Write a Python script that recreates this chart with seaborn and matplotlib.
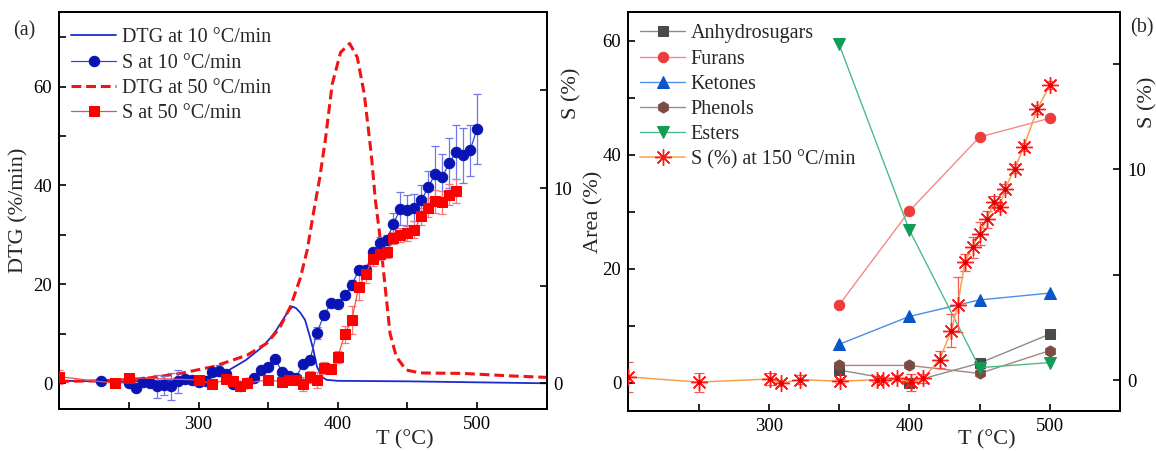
import matplotlib
matplotlib.use("Agg")
import matplotlib.pyplot as plt
import seaborn as sns
import numpy as np

sns.set_theme(style="ticks")
plt.rcParams['font.family'] = ['Liberation Serif', 'DejaVu Serif']
plt.rcParams['xtick.direction'] = 'in'
plt.rcParams['ytick.direction'] = 'in'

# ---------------- panel (a) data ----------------
t_dtg10 = [200, 230, 260, 290, 300, 310, 322, 334, 346, 352, 356, 360, 364, 367.5, 370, 373,
           376.5, 380, 382.5, 385, 388.5, 392, 400, 450, 500, 550]
dtg10 = [0.5, 0.4, 0.4, 0.7, 1.0, 1.5, 2.7, 4.7, 7.4, 9.3, 10.8, 12.6, 14.4, 15.5, 15.2, 14.3,
         12.8, 9.4, 6.7, 3.4, 1.3, 0.7, 0.5, 0.4, 0.2, 0.0]

t_dtg50 = [200, 230, 260, 287, 311, 335, 349, 358, 366, 373, 378, 382, 387, 391, 396, 402, 408.5,
           414, 419, 424, 427, 430, 434, 437.5, 442, 449, 459, 490, 524, 550]
dtg50 = [0.4, 0.5, 0.9, 2.0, 3.4, 5.7, 8.1, 11.1, 15.5, 21.2, 26.9, 33.6, 41.5, 49.1, 60.5, 66.9, 68.7,
         65.9, 58.5, 46.4, 37.0, 30.3, 19.5, 10.1, 5.4, 2.7, 2.1, 2.0, 1.5, 1.2]

t_s10 = [230, 250, 255, 260, 265, 270, 275, 280, 285, 290, 295, 300, 305, 310, 315, 320, 325, 330,
         335, 340, 345, 350, 355, 360, 365, 370, 375, 380, 385, 390, 395, 400, 405, 410, 415, 420,
         425, 430, 435, 440, 445, 450, 455, 460, 465, 470, 475, 480, 485, 490, 495, 500]
s10 = [0.12, 0.0, -0.25, 0.05, 0.0, -0.15, -0.1, -0.15, 0.1, 0.2, 0.15, 0.05, 0.1, 0.6, 0.65, 0.5,
       -0.05, -0.15, 0.03, 0.25, 0.68, 0.82, 1.26, 0.58, 0.37, 0.29, 0.99, 1.19, 2.59, 3.48, 4.09,
       4.05, 4.51, 5.03, 5.79, 5.79, 6.71, 7.19, 7.33, 8.18, 8.95, 8.86, 8.99, 9.37, 10.05, 10.73,
       10.56, 11.28, 11.84, 11.67, 11.93, 13.03]
err10 = [0.1, 0.1, 0.1, 0.15, 0.2, 0.6, 0.5, 0.7, 0.6, 0.2, 0.15, 0.1, 0.15, 0.2, 0.3, 0.2, 0.15, 0.15,
         0.1, 0.1, 0.1, 0.1, 0.1, 0.1, 0.1, 0.1, 0.15, 0.2, 0.3, 0.2, 0.2, 0.1, 0.2, 0.25, 0.2, 0.2,
         0.2, 0.3, 0.25, 0.55, 0.85, 0.8, 0.7, 0.8, 0.8, 1.4, 1.2, 1.3, 1.4, 1.4, 1.3, 1.8]

t_s50 = [200, 240, 250, 300, 310, 320, 325, 330, 335, 350, 360, 365, 370, 375, 380, 385, 390, 395,
         400, 405, 410, 415, 420, 425, 430, 435, 440, 445, 450, 455, 460, 465, 470, 475, 480, 485]
s50 = [0.34, 0.0, 0.29, 0.17, -0.05, 0.22, 0.12, -0.14, 0.03, 0.17, 0.08, 0.17, 0.17, -0.05, 0.34,
       0.17, 0.8, 0.73, 1.36, 2.5, 3.24, 4.94, 5.59, 6.35, 6.64, 6.7, 7.44, 7.58, 7.7, 7.87, 8.55,
       9.0, 9.32, 9.27, 9.66, 9.85]
err50 = [0.35, 0.1, 0.1, 0.1, 0.1, 0.1, 0.1, 0.1, 0.1, 0.1, 0.1, 0.1, 0.1, 0.35, 0.3, 0.4, 0.3, 0.2,
         0.3, 0.45, 0.7, 0.65, 0.45, 0.35, 0.3, 0.3, 0.3, 0.35, 0.4, 0.45, 0.45, 0.5, 0.6, 0.6, 0.55, 0.6]

# ---------------- panel (b) data ----------------
t_comp = [350, 400, 450, 500]
anhydrosugars = [2.2, 0.0, 3.4, 8.5]
furans = [13.6, 30.1, 43.1, 46.4]
ketones = [6.7, 11.6, 14.5, 15.7]
phenols = [3.0, 3.0, 1.6, 5.6]
esters = [59.4, 26.8, 2.6, 3.5]

t_s150 = [200, 250, 301, 309, 322, 351, 377, 381, 391, 401, 410, 421.5, 430, 434.5, 439.5, 445,
          450, 455, 460.5, 464.5, 468, 475, 481.5, 491, 500]
s150 = [0.15, -0.1, 0.05, -0.15, 0.02, -0.06, 0.02, 0.02, 0.08, -0.11, 0.08, 0.97, 2.35, 3.58,
        5.59, 6.31, 6.94, 7.62, 8.45, 8.21, 9.08, 10.03, 11.06, 12.84, 13.99]
err150 = [0.7, 0.45, 0.3, 0.15, 0.2, 0.1, 0.1, 0.1, 0.15, 0.4, 0.2, 0.4, 0.8, 1.3, 0.4, 0.5, 0.55,
          0.4, 0.3, 0.2, 0.2, 0.2, 0.2, 0.2, 0.2]

TICK_FS = 13.5
LAB_FS = 16
LEG_FS = 14.5

fig = plt.figure(figsize=(11.56, 4.51), dpi=100)


def style_axes(ax, ax2):
    for a in (ax, ax2):
        for s in a.spines.values():
            s.set_visible(True)
            s.set_color('black')
            s.set_linewidth(1.3)
        a.tick_params(axis='both', which='both', length=5, width=1.2, labelsize=TICK_FS,
                      pad=5, colors='black')
    ax.tick_params(axis='x', top=False)
    ax2.tick_params(axis='x', top=False)


# ================= panel (a) =================
axa = fig.add_axes([0.0513, 0.0925, 0.4216, 0.8802])
axa2 = axa.twinx()

sns.lineplot(x=t_dtg10, y=dtg10, ax=axa, color='#1a2ccf', linewidth=1.3, sort=False, estimator=None)
h_dtg10 = axa.get_lines()[-1]
sns.lineplot(x=t_dtg50, y=dtg50, ax=axa, color='#f01414', linewidth=2.2, sort=False, estimator=None)
h_dtg50 = axa.get_lines()[-1]
h_dtg50.set_dashes((3.2, 1.6))

axa2.errorbar(t_s10, s10, yerr=err10, fmt='none', ecolor='#6f78e6', elinewidth=0.9, capsize=3,
              capthick=0.9, zorder=2)
axa2.errorbar(t_s50, s50, yerr=err50, fmt='none', ecolor='#f47a7a', elinewidth=0.9, capsize=3,
              capthick=0.9, zorder=2)
sns.lineplot(x=t_s10, y=s10, ax=axa2, color='#3345d8', linewidth=0.9, marker='o', markersize=7.5,
             markerfacecolor='#0a14b4', markeredgecolor='#0a14b4', sort=False, estimator=None, zorder=3)
h_s10 = axa2.get_lines()[-1]
sns.lineplot(x=t_s50, y=s50, ax=axa2, color='#f25050', linewidth=0.9, marker='s', markersize=6.5,
             markerfacecolor='#ff0000', markeredgecolor='#ff0000', sort=False, estimator=None, zorder=4)
h_s50 = axa2.get_lines()[-1]

axa.set_xlim(200, 550)
axa.set_ylim(-5.25, 75)
axa2.set_ylim(-1.33, 19)
axa.set_xticks(np.arange(250, 551, 50))
axa.set_xticklabels(['' if v % 100 else str(v) for v in range(250, 551, 50)])
axa.set_yticks(np.arange(0, 71, 10))
axa.set_yticklabels(['' if v % 20 else str(v) for v in range(0, 71, 10)])
axa2.set_yticks([0, 5, 10, 15])
axa2.set_yticklabels(['0', '', '10', ''])
style_axes(axa, axa2)

axa.set_xlabel('T (°C)', fontsize=LAB_FS)
axa.xaxis.set_label_coords(0.709, -0.077)
axa.xaxis.label.set_va('center')
axa.set_ylabel('DTG (%/min)', fontsize=LAB_FS)
axa.yaxis.set_label_coords(-0.064, 0.5)
axa2.set_ylabel('S (%)', fontsize=LAB_FS)
axa2.yaxis.set_label_coords(1.031, 0.797)

axa2.legend([h_dtg10, h_s10, h_dtg50, h_s50],
            ['DTG at 10 °C/min', 'S at 10 °C/min', 'DTG at 50 °C/min', 'S at 50 °C/min'],
            loc='upper left', bbox_to_anchor=(0.0, 0.99), frameon=False, fontsize=LEG_FS,
            handlelength=2.2, handletextpad=0.3, labelspacing=0.3, borderaxespad=0.2)

fig.text(13 / 1156, 1 - 31 / 451, '(a)', fontsize=LEG_FS, va='center', ha='left')

# ================= panel (b) =================
axb = fig.add_axes([0.5435, 0.0887, 0.4254, 0.8840])
axb2 = axb.twinx()

comp_series = [
    ('Anhydrosugars', anhydrosugars, 's', '#4a4a4a', '#8c8c8c', 6.5),
    ('Furans', furans, 'o', '#ee3b3b', '#f38a8a', 7.5),
    ('Ketones', ketones, '^', '#0a55c8', '#4a8fe6', 8),
    ('Phenols', phenols, 'h', '#7b4b44', '#a8857e', 8),
    ('Esters', esters, 'v', '#129c56', '#4dbb88', 8),
]
handles_b = []
for name, vals, mk, mc, lc, ms in comp_series:
    sns.lineplot(x=t_comp, y=vals, ax=axb, color=lc, linewidth=1.0, marker=mk, markersize=ms,
                 markerfacecolor=mc, markeredgecolor=mc, sort=False, estimator=None)
    handles_b.append(axb.get_lines()[-1])

axb2.errorbar(t_s150, s150, yerr=err150, fmt='none', ecolor='#f25a5a', elinewidth=0.9, capsize=3.5,
              capthick=0.9, zorder=2)
sns.lineplot(x=t_s150, y=s150, ax=axb2, color='#f7a04a', linewidth=1.1, marker=(8, 2, 0),
             markersize=12, markeredgewidth=1.0, markeredgecolor='#ff1a1a', sort=False,
             estimator=None, zorder=3)
h_s150 = axb2.get_lines()[-1]
axb2.scatter(t_s150, s150, s=6, color='#e00000', zorder=4)

axb.set_xlim(200, 550)
axb.set_ylim(-5, 65)
axb2.set_ylim(-1.47, 17.45)
axb.set_xticks(np.arange(250, 551, 50))
axb.set_xticklabels(['' if v % 100 else str(v) for v in range(250, 551, 50)])
axb.set_yticks(np.arange(0, 61, 10))
axb.set_yticklabels(['' if v % 20 else str(v) for v in range(0, 61, 10)])
axb2.set_yticks([0, 5, 10, 15])
axb2.set_yticklabels(['0', '', '10', ''])
style_axes(axb, axb2)

axb.set_xlabel('T (°C)', fontsize=LAB_FS)
axb.xaxis.set_label_coords(0.73, -0.073)
axb.xaxis.label.set_va('center')
axb.set_ylabel('Area (%)', fontsize=LAB_FS)
axb.yaxis.set_label_coords(-0.05, 0.5)
axb2.set_ylabel('S (%)', fontsize=LAB_FS)
axb2.yaxis.set_label_coords(1.036, 0.775)

axb2.legend(handles_b + [h_s150],
            ['Anhydrosugars', 'Furans', 'Ketones', 'Phenols', 'Esters', 'S (%) at 150 °C/min'],
            loc='upper left', bbox_to_anchor=(0.0, 1.0), frameon=False, fontsize=LEG_FS,
            handlelength=2.2, handletextpad=0.3, labelspacing=0.3, borderaxespad=0.2)

fig.text(1130 / 1156, 1 - 28 / 451, '(b)', fontsize=LEG_FS, va='center', ha='left')

fig.savefig('out.png', dpi=100)
plt.close(fig)
